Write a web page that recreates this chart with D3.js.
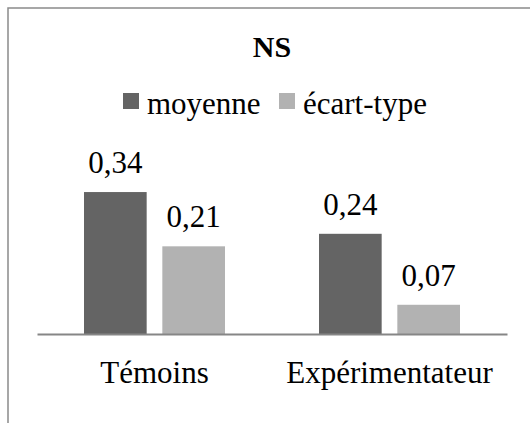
<!DOCTYPE html>
<html>
<head>
<meta charset="utf-8">
<script src="https://cdn.jsdelivr.net/npm/d3@7"></script>
<style>
  body { margin: 0; background: #fff; }
  text { font-family: "Liberation Serif", "Times New Roman", serif; fill: #000; }
</style>
</head>
<body>
<script>
// chart values
const categories = ['Témoins', 'Expérimentateur']
const seriesNames = ['moyenne', 'écart-type']
const moyenne = [0.34, 0.24]
const ecartType = [0.21, 0.07]
const seriesColors = ['#646464', '#b2b2b2']
const title = 'NS'

const width = 530, height = 423
const margin = { left: 37, right: 23, bottom: 89 }
const baseY = height - margin.bottom
const fontSize = '31px'

// build rows for the grouped bars
const rows = categories.map((c, i) => ({ cat: c, values: [moyenne[i], ecartType[i]] }))

const svg = d3.select('body').append('svg')
    .attr('width', width)
    .attr('height', height)

// frame (cropped at right and bottom)
svg.append('rect')
    .attr('x', 8).attr('y', 8)
    .attr('width', 600).attr('height', 600)
    .attr('fill', 'none')
    .attr('stroke', '#8a8a8a')
    .attr('stroke-width', 1.5)

// scales
const x0 = d3.scaleBand()
    .domain(categories)
    .range([margin.left, width - margin.right])
    .paddingInner(0.4)
    .paddingOuter(0.2)

const x1 = d3.scaleBand()
    .domain(seriesNames)
    .range([0, x0.bandwidth()])
    .paddingInner(0.2)

const y = d3.scaleLinear()
    .domain([0, 0.4])
    .range([baseY, baseY - 167])

const fmt = v => d3.format('.2f')(v).replace('.', ',')

// bars
const groups = svg.selectAll('.grp').data(rows)
    .enter().append('g')
    .attr('transform', d => 'translate(' + x0(d.cat) + ',0)')

groups.selectAll('rect')
    .data(d => d.values.map((v, i) => ({ name: seriesNames[i], v: v, i: i })))
    .enter().append('rect')
    .attr('x', d => x1(d.name))
    .attr('y', d => y(d.v))
    .attr('width', x1.bandwidth())
    .attr('height', d => baseY - y(d.v))
    .attr('fill', d => seriesColors[d.i])

// value labels
groups.selectAll('.val')
    .data(d => d.values.map((v, i) => ({ name: seriesNames[i], v: v })))
    .enter().append('text')
    .attr('x', d => x1(d.name) + x1.bandwidth() / 2)
    .attr('y', d => y(d.v) - 19)
    .attr('text-anchor', 'middle')
    .style('font-size', fontSize)
    .text(d => fmt(d.v))

// category axis
const xAxis = svg.append('g')
    .attr('transform', 'translate(0,' + baseY + ')')
    .call(d3.axisBottom(x0).tickSize(0).tickSizeOuter(0).tickPadding(0))

xAxis.select('.domain')
    .attr('stroke', '#868686')
    .attr('stroke-width', 2)

xAxis.selectAll('.tick text')
    .attr('y', 49)
    .attr('dy', null)
    .attr('fill', null)
    .style('font-size', fontSize)

// title
svg.append('text')
    .attr('x', width / 2 + 7)
    .attr('y', 57)
    .attr('text-anchor', 'middle')
    .style('font-size', '30px')
    .style('font-weight', 'bold')
    .text(title)

// legend
const legendX = [123, 279]
const legend = svg.selectAll('.leg').data(seriesNames)
    .enter().append('g')
    .attr('transform', (d, i) => 'translate(' + legendX[i] + ',93)')

legend.append('rect')
    .attr('width', 16).attr('height', 16)
    .attr('fill', (d, i) => seriesColors[i])

legend.append('text')
    .attr('x', 24)
    .attr('y', 21)
    .style('font-size', fontSize)
    .text(d => d)
</script>
</body>
</html>
